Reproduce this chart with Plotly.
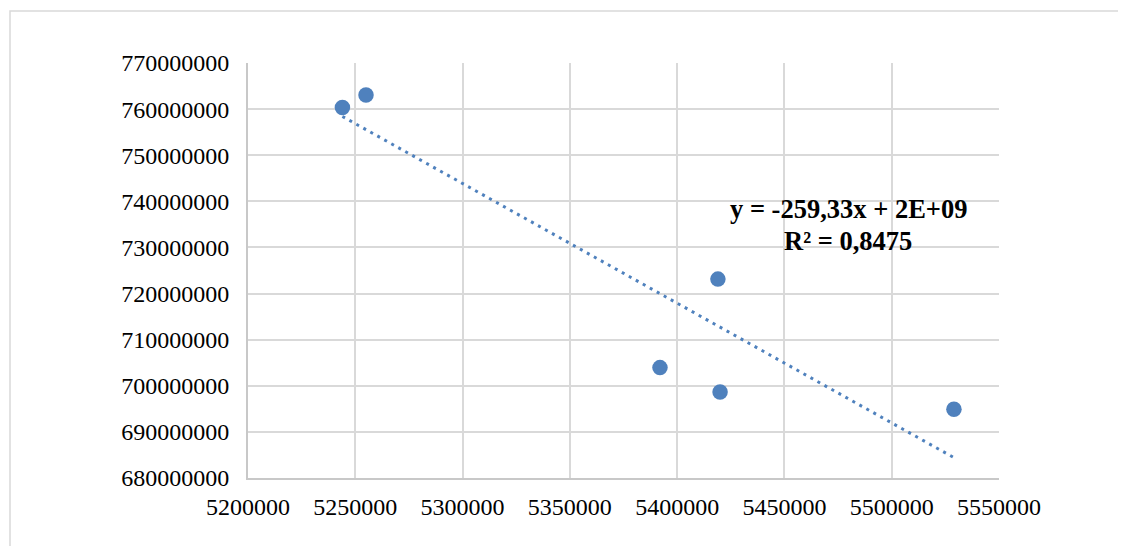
import numpy as np
import plotly.graph_objects as go

x_vals = [5244000, 5255000, 5419000, 5392000, 5420000, 5529000]
y_vals = [760360000, 763060000, 723130000, 703940000, 698670000, 694900000]
eq_text = "y = -259,33x + 2E+09"
r2_text = "R² = 0,8475"

x_ticks = [5200000, 5250000, 5300000, 5350000, 5400000, 5450000, 5500000, 5550000]
y_ticks = [680000000, 690000000, 700000000, 710000000, 720000000, 730000000,
           740000000, 750000000, 760000000, 770000000]

slope, intercept = np.polyfit(x_vals, y_vals, 1)
tx = [min(x_vals), max(x_vals)]
ty = [slope * v + intercept for v in tx]

blue = "#4f81bd"
font = "Liberation Serif"

OFF = 8  # page body margin
W, H = 1126 - OFF, 546 - OFF
L, T = 248 - OFF, 63 - OFF
R, B = 1126 - 999, 546 - 478
pw, ph = W - L - R, H - T - B

fig = go.Figure()
fig.add_trace(go.Scatter(x=tx, y=ty, mode="lines",
                         line=dict(color=blue, width=3, dash="3px,5px"),
                         hoverinfo="skip", showlegend=False))
fig.add_trace(go.Scatter(x=x_vals, y=y_vals, mode="markers",
                         marker=dict(color=blue, size=15.5, line=dict(width=0)),
                         showlegend=False))

def px_x(px):
    return (px - OFF - L) / pw

def px_y(py):
    return 1 - (py - OFF - T) / ph

fig.update_layout(
    width=W, height=H,
    margin=dict(l=L, r=R, t=T, b=B),
    paper_bgcolor="white", plot_bgcolor="white",
    font=dict(family=font, size=24, color="black"),
    xaxis=dict(range=[5200000, 5550000], tickvals=x_ticks,
               ticktext=[str(v) for v in x_ticks],
               showgrid=True, gridcolor="#d9d9d9", gridwidth=1.5,
               showline=True, linecolor="#c8c8c8", linewidth=2,
               zeroline=False, ticks="", ticklabelstandoff=6),
    yaxis=dict(range=[680000000, 770000000], tickvals=y_ticks,
               ticktext=[str(v) for v in y_ticks],
               showgrid=True, gridcolor="#d9d9d9", gridwidth=1.5,
               showline=True, linecolor="#c8c8c8", linewidth=2,
               zeroline=False, ticks="", ticklabelstandoff=12),
    shapes=[dict(type="rect", xref="paper", yref="paper",
                 x0=px_x(10), x1=px_x(1150),
                 y0=px_y(570), y1=px_y(11),
                 line=dict(color="#d9d9d9", width=1.5), layer="below")],
    annotations=[
        dict(text="<b>" + eq_text + "</b>", xref="paper", yref="paper",
             x=px_x(848), y=px_y(209), showarrow=False,
             xanchor="center", yanchor="middle", font=dict(size=26.5)),
        dict(text="<b>" + r2_text + "</b>", xref="paper", yref="paper",
             x=px_x(848), y=px_y(241), showarrow=False,
             xanchor="center", yanchor="middle", font=dict(size=26.5)),
    ],
)
fig.write_html("out.html")
